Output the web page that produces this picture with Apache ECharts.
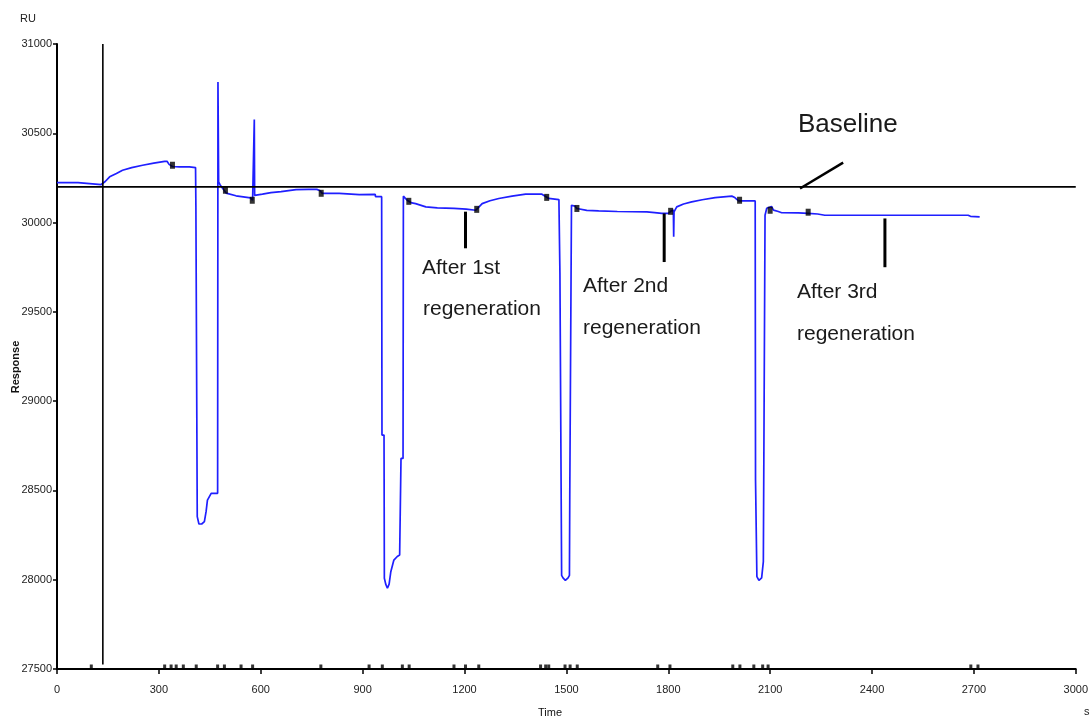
<!DOCTYPE html>
<html>
<head>
<meta charset="utf-8">
<script src="https://cdn.jsdelivr.net/npm/echarts/dist/echarts.min.js"></script>
<style>
  html, body { margin: 0; padding: 0; background: #fff; }
  #chart { width: 1091px; height: 721px; }
</style>
</head>
<body>
<div id="chart"></div>
<script>
// Sensorgram: response (RU) against time (s), three regeneration cycles

// Axis ticks
const timeTicks = [0, 300, 600, 900, 1200, 1500, 1800, 2100, 2400, 2700, 3000];
const ruTicks = [27500, 28000, 28500, 29000, 29500, 30000, 30500, 31000];

// Response trace, split by cycle: [time s, response RU]
const preInjection = [
  [0, 30224], [62, 30224], [63, 30213], [130, 30213], [135, 30209]
];
const cycle1 = [
  [142, 30230], [155, 30256], [175, 30275], [193, 30293], [220, 30308], [252, 30321],
  [285, 30333], [317, 30343], [324, 30343], [330, 30326], [340, 30314], [360, 30312],
  [390, 30312], [408, 30308],
  [409, 30097], [411, 30097], [413, 28353], [418, 28312], [426, 28312], [434, 28325],
  [439, 28381], [443, 28446], [454, 28484], [473, 28484],
  [474, 30787], [476, 30228], [480, 30212], [493, 30178], [498, 30165], [527, 30150],
  [570, 30138], [576, 30125], [580, 30125], [581, 30577], [582, 30152], [605, 30159],
  [630, 30168], [660, 30173], [704, 30185], [740, 30186], [765, 30186], [775, 30178],
  [781, 30163], [831, 30163], [890, 30157], [937, 30158], [938, 30145], [956, 30145]
];
const cycle2 = [
  [957, 28810], [963, 28810], [964, 28008], [968, 27975], [973, 27952], [978, 27975],
  [983, 28045], [992, 28110], [1002, 28130], [1009, 28138], [1012, 28138], [1013, 28679],
  [1019, 28679], [1020, 30148], [1031, 30125], [1036, 30116], [1045, 30110], [1056, 30106],
  [1086, 30088], [1120, 30082], [1169, 30079], [1205, 30075], [1233, 30069], [1240, 30082],
  [1252, 30106], [1275, 30122], [1301, 30135], [1340, 30148], [1380, 30159], [1428, 30159],
  [1440, 30145], [1448, 30135], [1478, 30129], [1480, 30129]
];
const cycle3 = [
  [1481, 29715], [1485, 29715], [1486, 28024], [1490, 28010], [1497, 27996], [1505, 28010],
  [1509, 28024], [1510, 28475], [1514, 28475], [1515, 30097], [1525, 30092], [1531, 30079],
  [1560, 30068], [1595, 30065], [1650, 30062], [1737, 30060], [1760, 30056], [1781, 30051],
  [1800, 30051], [1807, 30063], [1815, 30070], [1816, 29920], [1817, 30060], [1825, 30088],
  [1845, 30104], [1869, 30116], [1900, 30128], [1938, 30140], [1987, 30148], [1996, 30140],
  [2007, 30121], [2056, 30121]
];
const cycle4 = [
  [2057, 28558], [2060, 28558], [2061, 28017], [2067, 27996], [2075, 28010], [2080, 28101],
  [2084, 28101], [2085, 30041], [2090, 30080], [2095, 30088], [2104, 30090], [2110, 30070],
  [2124, 30062], [2134, 30055], [2183, 30054], [2212, 30051], [2240, 30048], [2261, 30041],
  [2683, 30041], [2690, 30035], [2717, 30032]
];

// Report points on the trace
const reportPoints = [
  [340, 30321], [496, 30181], [575, 30125], [778, 30164], [1036, 30119], [1236, 30074],
  [1442, 30141], [1531, 30079], [1807, 30063], [2010, 30125], [2100, 30069], [2212, 30058]
];

// Injection / event marks along the time axis
const eventTimes = [
  101, 317, 336, 351, 372, 410, 473, 493, 542, 576, 777, 919, 958, 1017, 1037,
  1169, 1203, 1242, 1424, 1439, 1448, 1496, 1511, 1532, 1769, 1805, 1990, 2011,
  2052, 2078, 2094, 2691, 2712
];

// Reference level and cursor
const baselineRU = 30200;
const cursorTime = 135;

// Pointer segments for the notes: [[t, ru], [t, ru]]
const baselinePointer = [[2188, 30191], [2315, 30336]];
const regenPointers = [
  [[1203, 30061], [1203, 29856]],
  [[1788, 30051], [1788, 29779]],
  [[2438, 30023], [2438, 29750]]
];

const trace = preInjection.concat(cycle1, cycle2, cycle3, cycle4);

const chart = echarts.init(document.getElementById('chart'), null, { renderer: 'canvas' });

const tickFont = { fontFamily: 'Liberation Sans, Arial, sans-serif', fontSize: 11, color: '#222' };
const noteFont = 'Liberation Sans, Arial, sans-serif';

function segmentSeries(points, width) {
  return {
    type: 'line',
    data: points,
    showSymbol: false,
    silent: true,
    clip: false,
    z: 4,
    lineStyle: { color: '#000', width: width },
    animation: false
  };
}

const series = [
  {
    name: 'Response',
    type: 'line',
    data: trace,
    showSymbol: false,
    silent: true,
    z: 3,
    lineStyle: { color: '#1f1fff', width: 1.7 },
    animation: false
  },
  segmentSeries([[0, baselineRU], [3000, baselineRU]], 1.6),
  segmentSeries([[cursorTime, 27525], [cursorTime, 31000]], 1.6),
  segmentSeries(baselinePointer, 2.5),
  {
    type: 'scatter',
    data: reportPoints,
    symbol: 'rect',
    symbolSize: [5, 7],
    itemStyle: { color: '#000' },
    z: 5,
    silent: true,
    animation: false
  },
  {
    type: 'scatter',
    data: eventTimes.map(t => [t, 27500]),
    symbol: 'rect',
    symbolSize: [3, 5],
    symbolOffset: [0, -2],
    itemStyle: { color: '#000' },
    z: 5,
    silent: true,
    clip: false,
    animation: false
  }
];
regenPointers.forEach(p => series.push(segmentSeries(p, 3)));

function note(text, x, y, size) {
  return {
    type: 'text',
    x: x, y: y,
    style: {
      text: text,
      fill: '#1a1a1a',
      font: size + 'px ' + noteFont,
      verticalAlign: 'middle',
      align: 'left'
    }
  };
}

const plainNumber = v => String(v);

chart.setOption({
  animation: false,
  backgroundColor: '#fff',
  grid: { left: 57, right: 13, top: 44, bottom: 52, containLabel: false },
  xAxis: {
    type: 'value',
    min: timeTicks[0],
    max: timeTicks[timeTicks.length - 1],
    interval: 300,
    axisLine: { show: true, onZero: false, lineStyle: { color: '#000', width: 2 } },
    axisTick: { show: true, length: 5, lineStyle: { color: '#000', width: 1.5 } },
    axisLabel: { margin: 15, formatter: plainNumber, ...tickFont },
    splitLine: { show: false }
  },
  yAxis: {
    type: 'value',
    min: ruTicks[0],
    max: ruTicks[ruTicks.length - 1],
    interval: 500,
    axisLine: { show: true, onZero: false, lineStyle: { color: '#000', width: 2 } },
    axisTick: { show: true, length: 4, lineStyle: { color: '#000', width: 1.5 } },
    axisLabel: { margin: 5, formatter: plainNumber, ...tickFont },
    splitLine: { show: false }
  },
  series: series,
  graphic: [
    { type: 'text', x: 20, y: 19, style: { text: 'RU', fill: '#222', font: '11px ' + noteFont, verticalAlign: 'middle' } },
    {
      type: 'text', x: 16, y: 367, rotation: Math.PI / 2,
      style: { text: 'Response', fill: '#111', font: 'bold 11px ' + noteFont, align: 'center', verticalAlign: 'middle' }
    },
    { type: 'text', x: 538, y: 713, style: { text: 'Time', fill: '#111', font: '11px ' + noteFont, verticalAlign: 'middle' } },
    { type: 'text', x: 1084, y: 712, style: { text: 's', fill: '#222', font: '11px ' + noteFont, verticalAlign: 'middle' } },
    note('Baseline', 798, 125, 26),
    note('After 1st', 422, 268, 21),
    note('regeneration', 423, 309, 21),
    note('After 2nd', 583, 286, 21),
    note('regeneration', 583, 328, 21),
    note('After 3rd', 797, 292, 21),
    note('regeneration', 797, 334, 21)
  ]
});
</script>
</body>
</html>
